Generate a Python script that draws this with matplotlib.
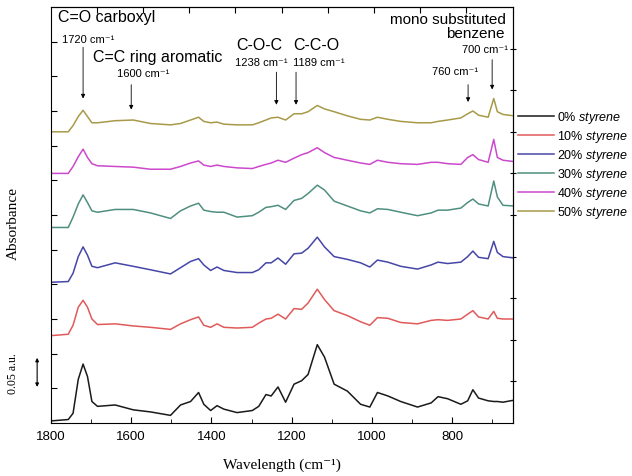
import numpy as np
import matplotlib
matplotlib.use("Agg")
import matplotlib.pyplot as plt

plt.rcParams['font.family'] = ['Liberation Sans', 'DejaVu Sans']
plt.rcParams['mathtext.fontset'] = 'custom'
plt.rcParams['mathtext.rm'] = 'Liberation Sans'
plt.rcParams['mathtext.it'] = 'Liberation Sans:italic'

# FTIR spectra of the copolymer films, baseline at 1800 cm-1
wavenumber = [1800, 1757, 1745, 1732, 1720, 1709, 1698, 1684, 1640, 1595,
              1552, 1502, 1477, 1452, 1432, 1419, 1402, 1386, 1369, 1336,
              1298, 1282, 1264, 1251, 1234, 1215, 1194, 1175, 1159, 1136,
              1118, 1094, 1061, 1028, 1005, 986, 960, 928, 886, 852,
              835, 811, 778, 761, 748, 734, 710, 696, 687, 673, 645]

abs_0 = [0.000, 0.002, 0.011, 0.060, 0.082, 0.064, 0.028, 0.021, 0.023, 0.016,
         0.013, 0.008, 0.023, 0.028, 0.041, 0.024, 0.015, 0.022, 0.017, 0.012,
         0.015, 0.021, 0.038, 0.036, 0.049, 0.027, 0.053, 0.058, 0.067, 0.110,
         0.092, 0.053, 0.043, 0.024, 0.020, 0.041, 0.036, 0.028, 0.020, 0.026,
         0.035, 0.032, 0.024, 0.029, 0.045, 0.033, 0.029, 0.028, 0.028, 0.027, 0.030]
abs_10 = [0.000, 0.002, 0.015, 0.041, 0.051, 0.041, 0.024, 0.016, 0.017, 0.014,
          0.012, 0.009, 0.017, 0.023, 0.027, 0.015, 0.012, 0.017, 0.012, 0.011,
          0.012, 0.018, 0.024, 0.025, 0.031, 0.024, 0.039, 0.038, 0.047, 0.067,
          0.052, 0.036, 0.029, 0.020, 0.015, 0.026, 0.025, 0.019, 0.017, 0.022,
          0.023, 0.022, 0.024, 0.031, 0.036, 0.027, 0.024, 0.035, 0.025, 0.024, 0.024]
abs_20 = [0.000, 0.001, 0.013, 0.037, 0.051, 0.039, 0.023, 0.021, 0.028, 0.023,
          0.018, 0.012, 0.021, 0.030, 0.034, 0.025, 0.017, 0.022, 0.017, 0.014,
          0.014, 0.018, 0.028, 0.028, 0.035, 0.026, 0.041, 0.042, 0.049, 0.065,
          0.051, 0.037, 0.033, 0.028, 0.022, 0.032, 0.029, 0.023, 0.019, 0.025,
          0.029, 0.027, 0.029, 0.037, 0.045, 0.036, 0.034, 0.059, 0.043, 0.037, 0.035]
abs_30 = [0.000, 0.000, 0.015, 0.034, 0.047, 0.036, 0.024, 0.022, 0.026, 0.026,
          0.021, 0.013, 0.024, 0.031, 0.035, 0.025, 0.023, 0.022, 0.022, 0.015,
          0.017, 0.022, 0.029, 0.030, 0.032, 0.026, 0.039, 0.042, 0.049, 0.061,
          0.054, 0.038, 0.031, 0.024, 0.021, 0.027, 0.026, 0.022, 0.017, 0.021,
          0.025, 0.025, 0.028, 0.036, 0.041, 0.034, 0.031, 0.067, 0.044, 0.032, 0.031]
abs_40 = [0.000, 0.000, 0.010, 0.024, 0.035, 0.023, 0.014, 0.011, 0.010, 0.009,
          0.006, 0.006, 0.010, 0.015, 0.018, 0.012, 0.010, 0.012, 0.010, 0.008,
          0.007, 0.010, 0.013, 0.015, 0.019, 0.016, 0.022, 0.027, 0.030, 0.037,
          0.030, 0.023, 0.019, 0.015, 0.013, 0.019, 0.016, 0.014, 0.013, 0.016,
          0.016, 0.014, 0.013, 0.023, 0.027, 0.020, 0.016, 0.049, 0.023, 0.019, 0.017]
abs_50 = [0.000, 0.000, 0.009, 0.022, 0.031, 0.022, 0.013, 0.013, 0.016, 0.017,
          0.012, 0.010, 0.012, 0.017, 0.021, 0.015, 0.013, 0.014, 0.011, 0.010,
          0.010, 0.013, 0.017, 0.020, 0.021, 0.017, 0.026, 0.026, 0.029, 0.038,
          0.033, 0.029, 0.023, 0.018, 0.017, 0.021, 0.018, 0.015, 0.013, 0.013,
          0.015, 0.017, 0.020, 0.026, 0.030, 0.024, 0.021, 0.048, 0.029, 0.025, 0.023]

spectra = [abs_0, abs_10, abs_20, abs_30, abs_40, abs_50]
labels = ['0%', '10%', '20%', '30%', '40%', '50%']
offsets = [0.003, 0.126, 0.203, 0.282, 0.360, 0.420]
colors = ['#1a1a1a', '#e05a5a', '#4646a8', '#4f8f80', '#cc48cc', '#a89a48']

fig = plt.figure(figsize=(6.32, 4.77), dpi=100)
ax = fig.add_axes([51/632, 1 - 424/477, 462/632, 416/477])

for y, off, c, lab in zip(spectra, offsets, colors, labels):
    ax.plot(wavenumber, np.array(y) + off, color=c, lw=1.1,
            label=lab + r' $\it{styrene}$')

ax.set_xlim(1800, 648)
ax.set_ylim(0, 0.6)
ax.set_xticks(np.arange(1800, 699, -200))
ax.set_xticks(np.arange(1700, 649, -200), minor=True)
ax.set_yticks(np.arange(0.05, 0.56, 0.05))
ax.set_yticklabels([])
ax.tick_params(direction='in', length=4, labelsize=9.5, pad=5)
ax.tick_params(which='minor', direction='in', length=3)

top = ax.secondary_xaxis('top')
top.set_xticks(np.arange(1685, 700, -115))
top.set_xticklabels([])
top.tick_params(direction='in', length=4)
right = ax.secondary_yaxis('right')
right.set_yticks(np.arange(0.06, 0.59, 0.06))
right.set_yticklabels([])
right.tick_params(direction='inout', length=4)

serif = ['Liberation Serif', 'DejaVu Serif']
ax.set_xlabel('Wavelength (cm⁻¹)', family=serif, fontsize=11, labelpad=11)
ax.set_ylabel('Absorbance', family=serif, fontsize=11)
ax.yaxis.set_label_coords(-0.067, 0.483)

# scale bar for absorbance
ax.annotate('', xy=(-0.030, 0.098), xytext=(-0.030, 0.048),
            xycoords=('axes fraction', 'data'),
            arrowprops=dict(arrowstyle='<|-|>', color='black', lw=0.8,
                            mutation_scale=5), annotation_clip=False)
ax.text(-0.083, 0.073, '0.05 a.u.', transform=ax.get_yaxis_transform(),
        rotation=90, ha='center', va='center', family=serif, fontsize=8.5)

# band assignments
arrows = [(1720, 0.546, 0.464), (1600, 0.492, 0.448), (1238, 0.510, 0.455),
          (1189, 0.510, 0.455), (760, 0.492, 0.459), (700, 0.528, 0.477)]
for x, y0, y1 in arrows:
    ax.annotate('', xy=(x, y1), xytext=(x, y0),
                arrowprops=dict(arrowstyle='-|>', color='black', lw=0.6,
                                mutation_scale=6))

sans = ['Liberation Sans', 'DejaVu Sans']
ax.text(1782, 0.586, 'C=O carboxyl', fontsize=11.5, va='center', family=sans)
ax.text(1772, 0.554, '1720 cm⁻¹', fontsize=8, va='center', family=sans)
ax.text(1695, 0.528, 'C=C ring aromatic', fontsize=11.5, va='center',
        family=sans)
ax.text(1635, 0.505, '1600 cm⁻¹', fontsize=8, va='center', family=sans)
ax.text(1337, 0.546, 'C-O-C', fontsize=11.5, va='center', family=sans)
ax.text(1340, 0.520, '1238 cm⁻¹', fontsize=8, va='center', family=sans)
ax.text(1195, 0.546, 'C-C-O', fontsize=11.5, va='center', family=sans)
ax.text(1197, 0.520, '1189 cm⁻¹', fontsize=8, va='center', family=sans)
ax.text(665, 0.583, 'mono substituted', fontsize=11, va='center',
        ha='right', family=sans)
ax.text(670, 0.562, 'benzene', fontsize=11, va='center', ha='right',
        family=sans)
ax.text(660, 0.539, '700 cm⁻¹', fontsize=8, va='center', ha='right',
        family=sans)
ax.text(735, 0.507, '760 cm⁻¹', fontsize=8, va='center', ha='right',
        family=sans)

ax.legend(loc='upper left', bbox_to_anchor=(518/632, 1 - 110/477),
          bbox_transform=fig.transFigure, frameon=False, fontsize=9,
          handlelength=2.9, handletextpad=0.25, labelspacing=0.24,
          borderpad=0, borderaxespad=0)

fig.savefig('out.png', dpi=100)
